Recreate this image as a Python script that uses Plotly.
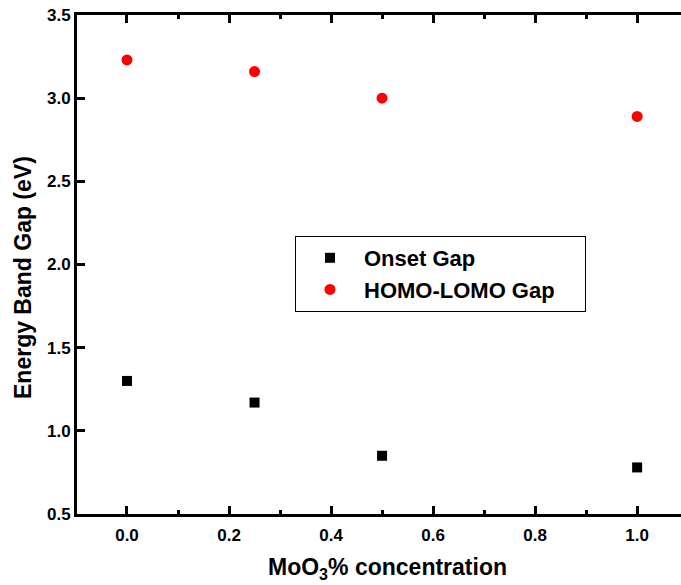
import plotly.graph_objects as go

# MoO3 concentration (%)
concentration = [0.0, 0.25, 0.5, 1.0]
# Band gaps (eV)
onset_gap = [1.30, 1.17, 0.85, 0.78]
homo_lomo_gap = [3.23, 3.16, 3.00, 2.89]

x_ticks = [0.0, 0.2, 0.4, 0.6, 0.8, 1.0]
y_ticks = [0.5, 1.0, 1.5, 2.0, 2.5, 3.0, 3.5]

FONT = "Liberation Sans, Arial, sans-serif"
W, H = 681, 585
L, R, T, B = 77, 0, 15, 71

PAD = "\u00a0" * 4  # widens the legend box on the right

fig = go.Figure()
fig.add_trace(go.Scatter(
    x=concentration, y=onset_gap, mode="markers", name="Onset Gap",
    marker=dict(symbol="square", size=10, color="black"),
))
fig.add_trace(go.Scatter(
    x=concentration, y=homo_lomo_gap, mode="markers", name="HOMO-LOMO Gap" + PAD,
    marker=dict(symbol="circle", size=11, color="#ff0000"),
))

xr = [-0.098, 1.086]
tickfont = dict(family=FONT, size=17, color="black", weight="bold")

fig.update_layout(
    width=W, height=H,
    margin=dict(l=L, r=R, t=T, b=B),
    plot_bgcolor="white", paper_bgcolor="white",
    showlegend=True,
    legend=dict(
        x=(295 - L) / (W - L - R), y=(H - B - 236) / (H - T - B),
        xanchor="left", yanchor="top",
        bordercolor="black", borderwidth=1, bgcolor="white",
        font=dict(family=FONT, size=22, color="black", weight="bold"),
        itemwidth=58, tracegroupgap=0,
    ),
    xaxis=dict(
        range=xr, tickvals=x_ticks, ticktext=[f"{v:.1f}" for v in x_ticks],
        showgrid=False, zeroline=False,
        showline=True, linecolor="black", linewidth=3,
        ticks="inside", ticklen=8, tickwidth=3, tickcolor="black",
        tickfont=tickfont, ticklabelstandoff=4,
        minor=dict(tickvals=[0.1, 0.3, 0.5, 0.7, 0.9], ticks="inside",
                   ticklen=4, tickwidth=3, tickcolor="black"),
    ),
    xaxis2=dict(
        range=xr, overlaying="x", side="top", anchor="y",
        tickvals=x_ticks, showticklabels=False,
        showgrid=False, zeroline=False,
        showline=True, linecolor="black", linewidth=3,
        ticks="inside", ticklen=8, tickwidth=3, tickcolor="black",
        minor=dict(tickvals=[0.1, 0.3, 0.5, 0.7, 0.9], ticks="inside",
                   ticklen=4, tickwidth=3, tickcolor="black"),
    ),
    yaxis=dict(
        range=[0.5, 3.5], tickvals=y_ticks, ticktext=[f"{v:.1f}" for v in y_ticks],
        showgrid=False, zeroline=False,
        showline=True, linecolor="black", linewidth=3,
        ticks="inside", ticklen=8, tickwidth=3, tickcolor="black",
        tickfont=tickfont,
    ),
)

# invisible trace to activate the top axis
fig.add_trace(go.Scatter(x=[None], y=[None], xaxis="x2", showlegend=False,
                         hoverinfo="skip"))

title_font = dict(family=FONT, size=23, color="black", weight="bold")
fig.add_annotation(
    text="MoO<sub>3</sub>% concentration", xref="paper", yref="paper",
    x=(387 - L) / (W - L - R), y=-(568 - (H - B)) / (H - T - B),
    xanchor="center", yanchor="middle", showarrow=False, font=title_font,
)
fig.add_annotation(
    text="Energy Band Gap (eV)", xref="paper", yref="paper",
    x=(23 - L) / (W - L - R), y=(H - B - 278) / (H - T - B),
    xanchor="center", yanchor="middle", textangle=-90, showarrow=False,
    font=title_font,
)

fig.write_html("out.html")
